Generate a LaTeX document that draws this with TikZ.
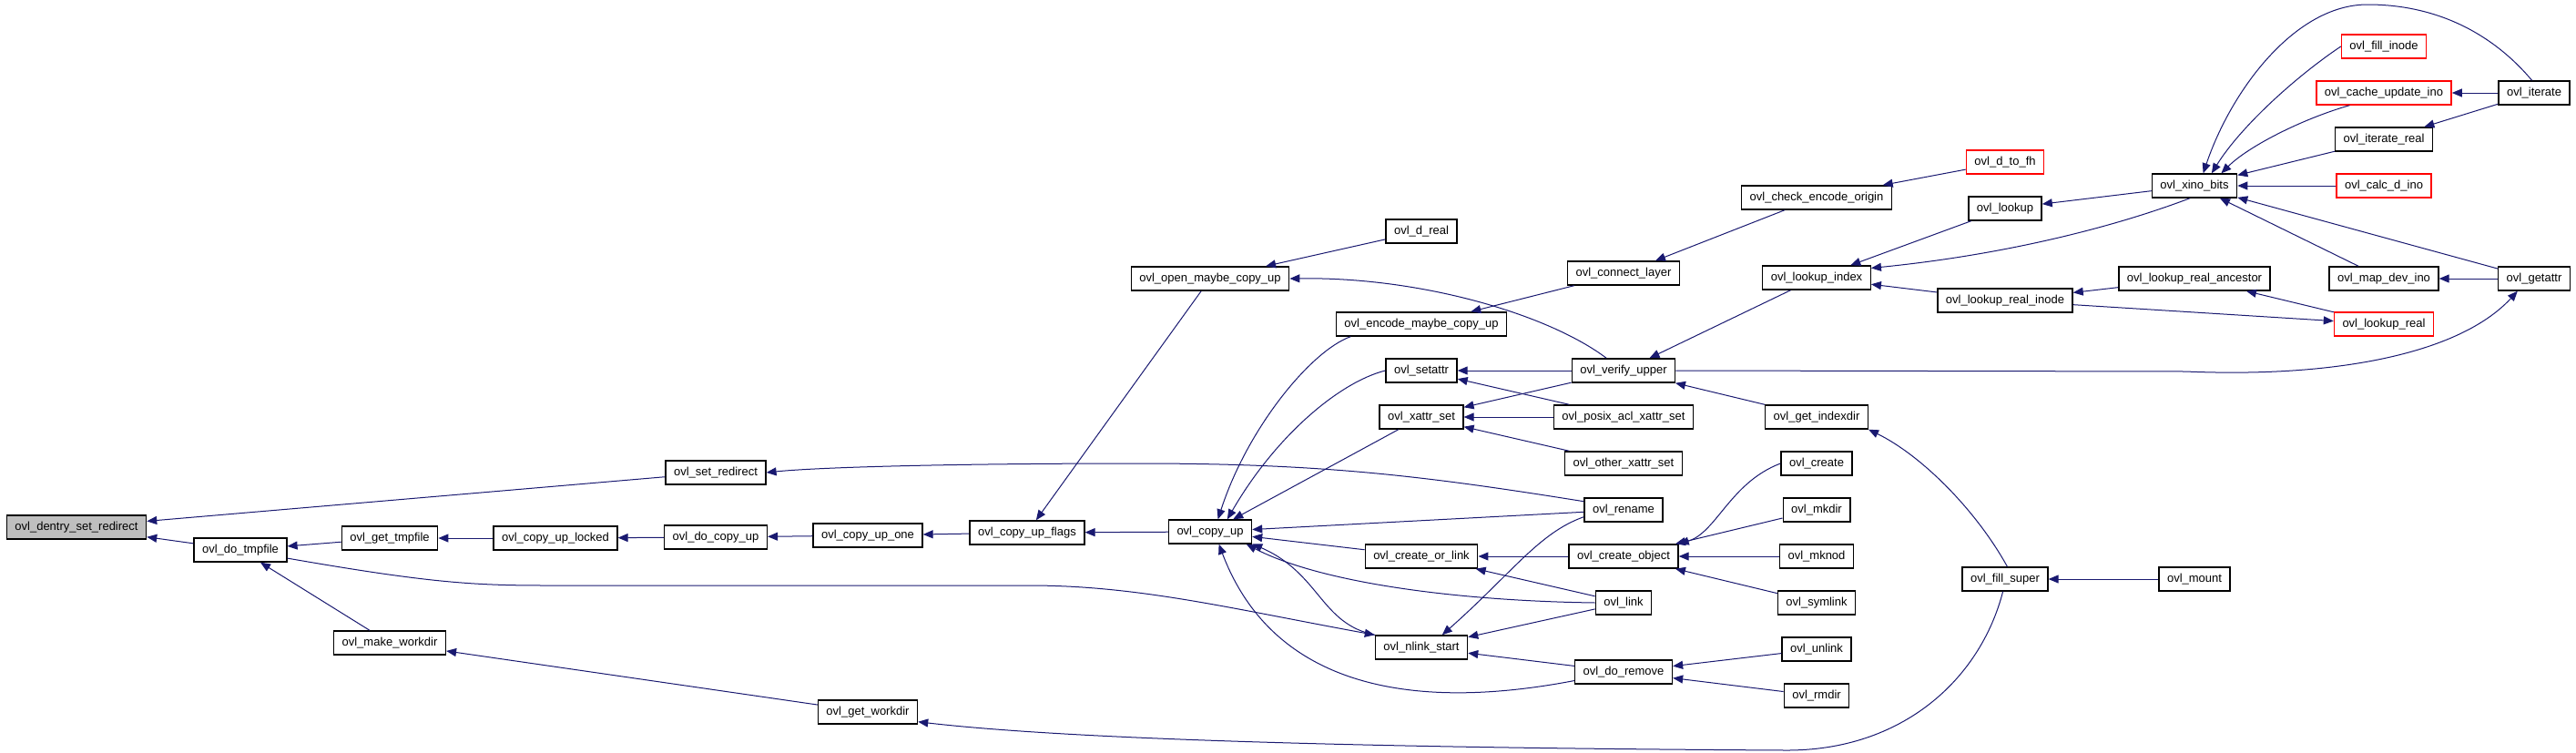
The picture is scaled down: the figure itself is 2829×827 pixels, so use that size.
\documentclass[tikz,border=0pt]{standalone}
\usepackage{fontspec}
\setmainfont{Liberation Sans}
\usetikzlibrary{arrows.meta}
\definecolor{edgeblue}{HTML}{191970}
\definecolor{rootgray}{HTML}{BFBFBF}

\begin{document}
\begin{tikzpicture}[
    x=1pt, y=-1pt,
    every node/.style={font=\fontsize{13}{15}\selectfont},
    fn/.style={draw=black, line width=1.4pt, fill=white, minimum height=26pt, inner xsep=9pt, inner ysep=0pt},
    fnred/.style={fn, draw=red},
    fnroot/.style={fn, fill=rootgray},
    call/.style={edgeblue, line width=1pt, -{Triangle[length=11pt,width=9pt]}}
]
\useasboundingbox (0,0) rectangle (2829,827);

% Root and copy-up chain
\node[fnroot] (dentry) at (84,579) {ovl\_dentry\_set\_redirect};
\node[fn] (dotmp) at (264,604) {ovl\_do\_tmpfile};
\node[fn] (gettmp) at (428,591) {ovl\_get\_tmpfile};
\node[fn] (mkwork) at (428,706) {ovl\_make\_workdir};
\node[fn] (locked) at (610,591) {ovl\_copy\_up\_locked};
\node[fn] (setredir) at (786,519) {ovl\_set\_redirect};
\node[fn] (docopy) at (786,590) {ovl\_do\_copy\_up};
\node[fn] (copyone) at (953,588) {ovl\_copy\_up\_one};
\node[fn] (getwork) at (953,782) {ovl\_get\_workdir};
\node[fn] (flags) at (1128,585) {ovl\_copy\_up\_flags};
\node[fn] (copyup) at (1329,584) {ovl\_copy\_up};
\node[fn] (openmaybe) at (1329,306) {ovl\_open\_maybe\_copy\_up};

% Callers of ovl_copy_up
\node[fn] (dreal) at (1561,254) {ovl\_d\_real};
\node[fn] (encode) at (1561,356) {ovl\_encode\_maybe\_copy\_up};
\node[fn] (setattr) at (1561,407) {ovl\_setattr};
\node[fn] (xattrset) at (1561,458) {ovl\_xattr\_set};
\node[fn] (createlink) at (1561,611) {ovl\_create\_or\_link};
\node[fn] (nlink) at (1561,711) {ovl\_nlink\_start};

\node[fn] (connect) at (1783,300) {ovl\_connect\_layer};
\node[fn] (verify) at (1783,407) {ovl\_verify\_upper};
\node[fn] (posix) at (1783,458) {ovl\_posix\_acl\_xattr\_set};
\node[fn] (other) at (1783,509) {ovl\_other\_xattr\_set};
\node[fn] (rename) at (1783,560) {ovl\_rename};
\node[fn] (createobj) at (1783,611) {ovl\_create\_object};
\node[fn] (link) at (1783,662) {ovl\_link};
\node[fn] (doremove) at (1783,738) {ovl\_do\_remove};

\node[fn] (checkenc) at (1995,217) {ovl\_check\_encode\_origin};
\node[fn] (lkindex) at (1995,305) {ovl\_lookup\_index};
\node[fn] (indexdir) at (1995,458) {ovl\_get\_indexdir};
\node[fn] (create) at (1995,509) {ovl\_create};
\node[fn] (mkdir) at (1995,560) {ovl\_mkdir};
\node[fn] (mknod) at (1995,611) {ovl\_mknod};
\node[fn] (symlink) at (1995,662) {ovl\_symlink};
\node[fn] (unlink) at (1995,713) {ovl\_unlink};
\node[fn] (rmdir) at (1995,764) {ovl\_rmdir};

\node[fnred] (dtofh) at (2202,178) {ovl\_d\_to\_fh};
\node[fn] (lookup) at (2202,229) {ovl\_lookup};
\node[fn] (realinode) at (2202,330) {ovl\_lookup\_real\_inode};
\node[fn] (fillsuper) at (2202,636) {ovl\_fill\_super};

\node[fn] (xino) at (2410,204) {ovl\_xino\_bits};
\node[fn] (ancestor) at (2410,306) {ovl\_lookup\_real\_ancestor};
\node[fn] (mount) at (2410,636) {ovl\_mount};

\node[fnred] (fillinode) at (2618,51) {ovl\_fill\_inode};
\node[fnred] (cacheino) at (2618,102) {ovl\_cache\_update\_ino};
\node[fn] (iterreal) at (2618,153) {ovl\_iterate\_real};
\node[fnred] (calcino) at (2618,204) {ovl\_calc\_d\_ino};
\node[fn] (mapdev) at (2618,306) {ovl\_map\_dev\_ino};
\node[fnred] (lkreal) at (2618,356) {ovl\_lookup\_real};

\node[fn] (iterate) at (2783,102) {ovl\_iterate};
\node[fn] (getattr) at (2783,306) {ovl\_getattr};

% Calls into the root
\draw[call] (setredir) -- (dentry);
\draw[call] (dotmp) -- (dentry);
\draw[call] (gettmp) -- (dotmp);
\draw[call] (mkwork) -- (dotmp);
\draw[call] (locked) -- (gettmp);
\draw[call] (docopy) -- (locked);
\draw[call] (copyone) -- (docopy);
\draw[call] (flags) -- (copyone);
\draw[call] (copyup) -- (flags);
\draw[call] (openmaybe) -- (flags);
\draw[call] (getwork) -- (mkwork);
\draw[call] (dotmp.-10) .. controls (470,640) and (520,643) .. (600,643)
    -- (1130,643) .. controls (1250,643) and (1350,668) .. (nlink.north west);

% Calls into ovl_copy_up
\draw[call] (encode.-170) .. controls (1440,385) and (1370,470) .. (copyup.58);
\draw[call] (setattr.west) .. controls (1470,420) and (1400,480) .. (copyup.36);
\draw[call] (xattrset) -- (copyup);
\draw[call] (rename) -- (copyup);
\draw[call] (createlink) -- (copyup);
\draw[call] (link.west) .. controls (1600,660) and (1450,640) .. (copyup.-19);
\draw[call] (nlink.165) .. controls (1450,685) and (1450,630) .. (copyup.-16);
\draw[call] (doremove.190) .. controls (1560,780) and (1400,760) .. (copyup.-55);

% Second column callers
\draw[call] (dreal) -- (openmaybe);
\draw[call] (verify.144) .. controls (1700,345) and (1560,304) .. (openmaybe.east);
\draw[call] (connect) -- (encode);
\draw[call] (verify) -- (setattr);
\draw[call] (posix) -- (setattr);
\draw[call] (verify) -- (xattrset);
\draw[call] (posix) -- (xattrset);
\draw[call] (other) -- (xattrset);
\draw[call] (rename.168) .. controls (1560,522) and (1450,509) .. (1250,509)
    .. controls (1050,509) and (900,513) .. (setredir.east);
\draw[call] (createobj) -- (createlink);
\draw[call] (link) -- (createlink);
\draw[call] (rename.190) .. controls (1690,585) and (1660,630) .. (nlink.31);
\draw[call] (link) -- (nlink);
\draw[call] (doremove) -- (nlink);

% Third column callers
\draw[call] (checkenc) -- (connect);
\draw[call] (lkindex) -- (verify);
\draw[call] (indexdir) -- (verify);
\draw[call] (verify.east) -- (2400,408) .. controls (2560,415) and (2700,390) .. (getattr.-143);
\draw[call] (create.west) .. controls (1900,530) and (1885,585) .. (createobj.north east);
\draw[call] (mkdir) -- (createobj);
\draw[call] (mknod) -- (createobj);
\draw[call] (symlink) -- (createobj);
\draw[call] (unlink) -- (doremove);
\draw[call] (rmdir) -- (doremove);

% Lookup side
\draw[call] (dtofh) -- (checkenc);
\draw[call] (lookup) -- (lkindex);
\draw[call] (xino.250) .. controls (2320,250) and (2200,280) .. (lkindex.10);
\draw[call] (realinode) -- (lkindex);
\draw[call] (xino) -- (lookup);
\draw[call] (ancestor) -- (realinode);
\draw[call] (realinode) -- (lkreal);
\draw[call] (lkreal) -- (ancestor);
\draw[call] (fillsuper.80) .. controls (2170,560) and (2110,500) .. (indexdir.south east);
\draw[call] (fillsuper.-100) .. controls (2175,745) and (2090,825) .. (1960,824)
    .. controls (1600,822) and (1200,815) .. (getwork.-11);
\draw[call] (mount) -- (fillsuper);

% Calls into ovl_xino_bits
\draw[call] (iterate.100) .. controls (2740,40) and (2680,5) .. (2600,5)
    .. controls (2520,5) and (2450,100) .. (xino.55);
\draw[call] (fillinode.west) .. controls (2520,85) and (2460,140) .. (xino.36);
\draw[call] (cacheino.-160) .. controls (2530,130) and (2470,160) .. (xino.25);
\draw[call] (iterreal) -- (xino);
\draw[call] (calcino) -- (xino);
\draw[call] (getattr) -- (xino);
\draw[call] (mapdev) -- (xino);
\draw[call] (iterate) -- (cacheino);
\draw[call] (iterate) -- (iterreal);
\draw[call] (getattr) -- (mapdev);
\end{tikzpicture}
\end{document}
